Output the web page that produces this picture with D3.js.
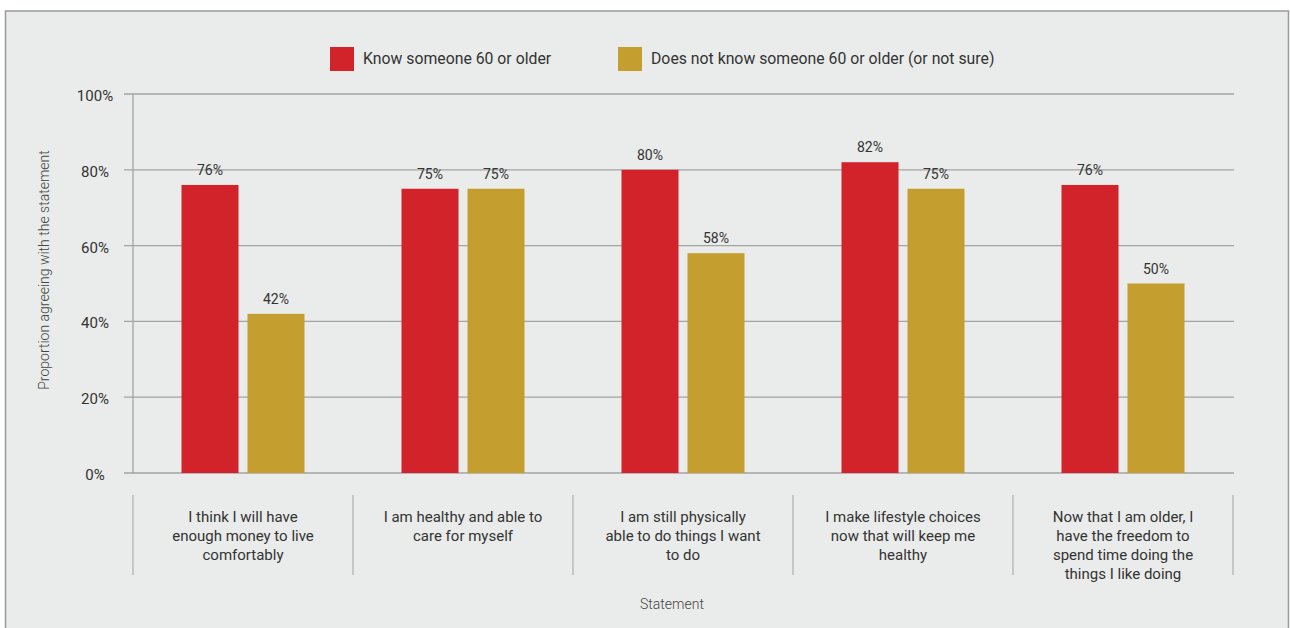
<!DOCTYPE html>
<html>
<head>
<meta charset="utf-8">
<script src="https://cdn.jsdelivr.net/npm/d3@7"></script>
<style>
  html, body { margin: 0; padding: 0; background: #ffffff; }
  svg { display: block; font-family: Roboto, "Noto Sans", sans-serif; }
</style>
</head>
<body>
<svg id="chart" width="1290" height="628"></svg>
<script>
// Statements shown along the x axis (lines split with "\n")
const categories = [
  "I think I will have\nenough money to live\ncomfortably",
  "I am healthy and able to\ncare for myself",
  "I am still physically\nable to do things I want\nto do",
  "I make lifestyle choices\nnow that will keep me\nhealthy",
  "Now that I am older, I\nhave the freedom to\nspend time doing the\nthings I like doing"
];
const seriesNames = ["Know someone 60 or older", "Does not know someone 60 or older (or not sure)"];
const knowSomeone = [76, 75, 80, 82, 76];
const doesNotKnow = [42, 75, 58, 75, 50];
const yTicks = [0, 20, 40, 60, 80, 100];
const colors = ["#d2232a", "#c49f2f"];

const svg = d3.select("#chart");

// Panel background and frame
svg.append("rect")
  .attr("x", 5.5).attr("y", 11).attr("width", 1283).attr("height", 640)
  .attr("fill", "#e9ecea").attr("stroke", "#9a9a9a").attr("stroke-width", 1.5);

const plot = { left: 133, right: 1233, top: 94, bottom: 473 };

const x0 = d3.scaleBand().domain(categories).range([plot.left, plot.right]).padding(0);
const groupW = 123;
const x1 = d3.scaleBand().domain(seriesNames).range([0, groupW]).paddingInner(0.136).paddingOuter(0);
const y = d3.scaleLinear().domain([0, 100]).range([plot.bottom, plot.top]);

// Gridlines with short tick stubs to the left of the axis
svg.append("g").selectAll("line").data(yTicks).join("line")
  .attr("x1", plot.left - 9).attr("x2", plot.right + 1)
  .attr("y1", d => y(d)).attr("y2", d => y(d))
  .attr("stroke", "#a3a3a3").attr("stroke-width", 1.3);

// Vertical axis line
svg.append("line")
  .attr("x1", plot.left).attr("x2", plot.left)
  .attr("y1", y(100)).attr("y2", y(0))
  .attr("stroke", "#a3a3a3").attr("stroke-width", 1.3);

// Y tick labels
svg.append("g").selectAll("text").data(yTicks).join("text")
  .attr("x", 95).attr("y", d => y(d) + 3)
  .attr("text-anchor", "middle").attr("dominant-baseline", "middle")
  .attr("font-size", 15).attr("fill", "#333")
  .text(d => d + "%");

// Y axis title
svg.append("text")
  .attr("transform", "translate(49,270) rotate(-90)")
  .attr("text-anchor", "middle")
  .attr("font-size", 14).attr("font-weight", 300).attr("fill", "#444")
  .text("Proportion agreeing with the statement");

// Bars
const rows = categories.map((c, i) => ({ cat: c, vals: [knowSomeone[i], doesNotKnow[i]] }));
const groups = svg.append("g").selectAll("g").data(rows).join("g")
  .attr("transform", d => `translate(${x0(d.cat) + (x0.bandwidth() - groupW) / 2},0)`);

groups.selectAll("rect").data(d => d.vals.map((v, j) => ({ v, s: seriesNames[j], j }))).join("rect")
  .attr("x", d => x1(d.s)).attr("width", x1.bandwidth())
  .attr("y", d => y(d.v)).attr("height", d => y(0) - y(d.v))
  .attr("fill", d => colors[d.j]);

groups.selectAll("text").data(d => d.vals.map((v, j) => ({ v, s: seriesNames[j] }))).join("text")
  .attr("x", d => x1(d.s) + x1.bandwidth() / 2)
  .attr("y", d => y(d.v) - 10)
  .attr("text-anchor", "middle")
  .attr("font-size", 14).attr("fill", "#333")
  .text(d => d.v + "%");

// Category separators
const seps = categories.map(c => x0(c)).concat([plot.right]);
svg.append("g").selectAll("line").data(seps).join("line")
  .attr("x1", d => d).attr("x2", d => d)
  .attr("y1", 495).attr("y2", 575)
  .attr("stroke", "#b3b3b3").attr("stroke-width", 1.3);

// Category labels
const catText = svg.append("g").selectAll("text").data(categories).join("text")
  .attr("text-anchor", "middle")
  .attr("font-size", 15).attr("fill", "#333");
catText.each(function(c) {
  const t = d3.select(this);
  c.split("\n").forEach((line, k) => {
    t.append("tspan")
      .attr("x", x0(c) + x0.bandwidth() / 2)
      .attr("y", 522 + k * 19)
      .text(line);
  });
});

// X axis title
svg.append("text")
  .attr("x", 672).attr("y", 609)
  .attr("text-anchor", "middle")
  .attr("font-size", 14).attr("font-weight", 300).attr("fill", "#444")
  .text("Statement");

// Legend
const legendX = [330, 618];
const legend = svg.append("g").selectAll("g").data(seriesNames).join("g")
  .attr("transform", (d, i) => `translate(${legendX[i]},47)`);
legend.append("rect").attr("width", 24).attr("height", 24).attr("fill", (d, i) => colors[i]);
legend.append("text")
  .attr("x", 33).attr("y", 13).attr("dominant-baseline", "middle")
  .attr("font-size", 15.8).attr("fill", "#333")
  .text(d => d);
</script>
</body>
</html>
